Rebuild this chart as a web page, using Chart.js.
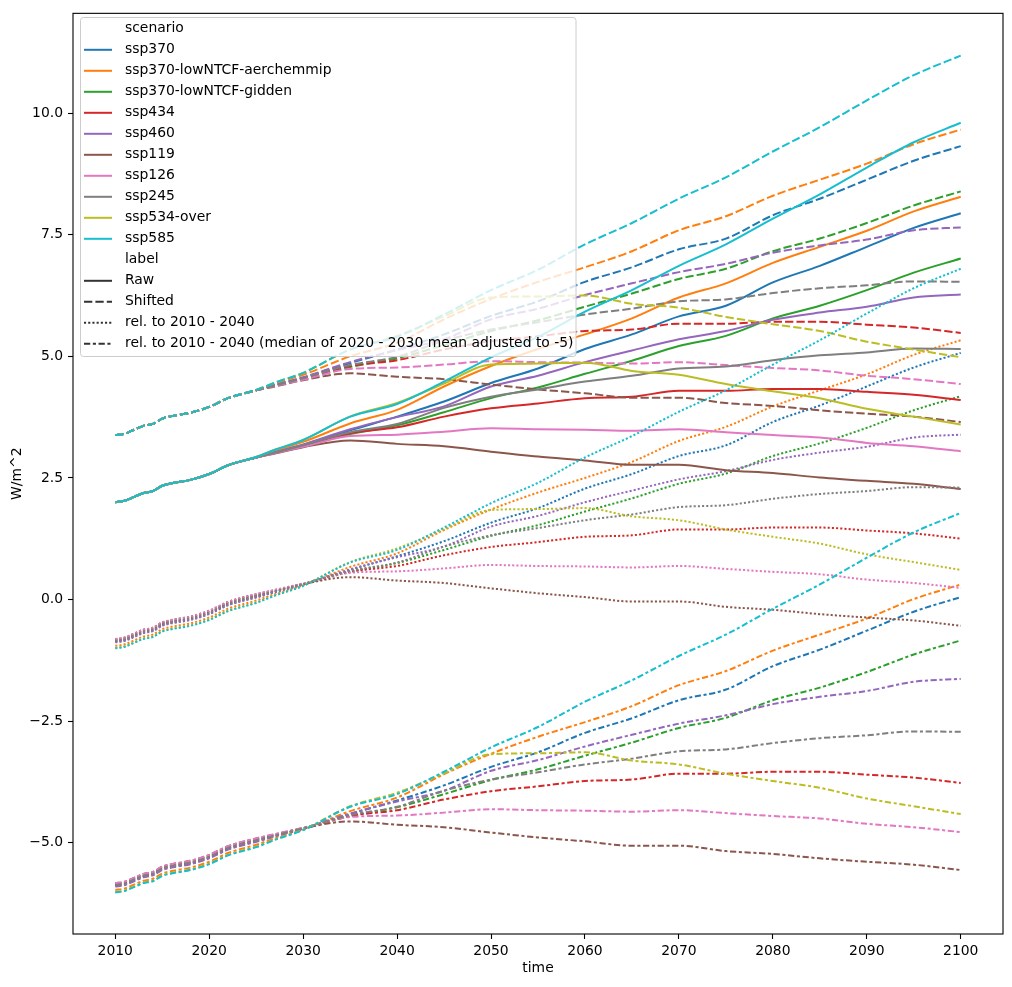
<!DOCTYPE html>
<html>
<head>
<meta charset="utf-8">
<title>Forcing by scenario</title>
<script src="https://cdn.jsdelivr.net/npm/chart.js@4.4.1/dist/chart.umd.min.js"></script>
<style>
  body { margin: 0; background: #fff; }
  #wrap { width: 1012px; height: 987px; }
</style>
</head>
<body>
<div id="wrap"><canvas id="myChart" width="1012" height="987"></canvas></div>
<script>
'use strict';

let scenarios = ['ssp370', 'ssp370-lowNTCF-aerchemmip', 'ssp370-lowNTCF-gidden', 'ssp434', 'ssp460',
  'ssp119', 'ssp126', 'ssp245', 'ssp534-over', 'ssp585'];
let colors = ['#1f77b4', '#ff7f0e', '#2ca02c', '#d62728', '#9467bd',
  '#8c564b', '#e377c2', '#7f7f7f', '#bcbd22', '#17becf'];
let labels = ['Raw', 'Shifted', 'rel. to 2010 - 2040',
  'rel. to 2010 - 2040 (median of 2020 - 2030 mean adjusted to -5)'];

// shared historical part, same for every scenario
let histYears = [2010, 2011, 2012, 2013, 2014, 2015, 2016, 2018, 2020, 2022];
let history = [2.00, 2.03, 2.11, 2.19, 2.23, 2.34, 2.39, 2.46, 2.58, 2.76];

let futYears = [2025, 2027, 2030, 2035, 2040, 2045, 2050, 2055, 2060, 2065, 2070,
  2075, 2080, 2085, 2090, 2095, 2100];

// raw values (W/m^2), from 2025 on
let ssp370 = [2.92, 3.03, 3.18, 3.48, 3.76, 4.07, 4.45, 4.75,
  5.15, 5.45, 5.82, 6.04, 6.52, 6.86, 7.25, 7.64, 7.94];
let ssp370Aer = [2.93, 3.06, 3.24, 3.62, 3.90, 4.38, 4.80, 5.15,
  5.45, 5.78, 6.21, 6.50, 6.92, 7.25, 7.58, 7.98, 8.28];
let ssp370Gidden = [2.92, 3.02, 3.15, 3.40, 3.58, 3.85, 4.14, 4.36,
  4.64, 4.91, 5.21, 5.42, 5.78, 6.04, 6.36, 6.72, 7.01];
let ssp434 = [2.92, 3.02, 3.16, 3.42, 3.54, 3.76, 3.93, 4.03,
  4.14, 4.17, 4.29, 4.29, 4.33, 4.33, 4.27, 4.21, 4.10];
let ssp460 = [2.92, 3.03, 3.19, 3.50, 3.75, 3.97, 4.38, 4.60,
  4.88, 5.12, 5.35, 5.52, 5.75, 5.90, 6.02, 6.21, 6.27];
let ssp119 = [2.92, 3.00, 3.13, 3.27, 3.20, 3.15, 3.04, 2.94,
  2.86, 2.77, 2.77, 2.66, 2.60, 2.51, 2.44, 2.38, 2.27];
let ssp126 = [2.92, 3.01, 3.14, 3.36, 3.39, 3.45, 3.52, 3.50,
  3.49, 3.47, 3.50, 3.44, 3.38, 3.33, 3.22, 3.15, 3.05];
let ssp245 = [2.92, 3.02, 3.17, 3.44, 3.61, 3.94, 4.17, 4.32,
  4.48, 4.60, 4.75, 4.79, 4.92, 5.02, 5.08, 5.16, 5.15];
let ssp534over = [2.93, 3.08, 3.28, 3.76, 4.04, 4.44, 4.83, 4.85,
  4.87, 4.70, 4.62, 4.43, 4.28, 4.14, 3.92, 3.76, 3.60];
let ssp585 = [2.93, 3.08, 3.28, 3.76, 4.02, 4.48, 4.98, 5.40,
  5.92, 6.36, 6.86, 7.30, 7.83, 8.33, 8.88, 9.40, 9.80];

let rawValues = [ssp370, ssp370Aer, ssp370Gidden, ssp434, ssp460, ssp119, ssp126, ssp245, ssp534over, ssp585];

// offsets (shifted minus raw, raw minus dotted, dash-dot minus dotted)
let shiftOffset = 1.38;
let relBase = [2.87, 2.95, 2.83, 2.85, 2.88, 2.81, 2.81, 2.85, 2.99, 3.00];
let medianShift = -5.02;

let xTicks = [2010, 2020, 2030, 2040, 2050, 2060, 2070, 2080, 2090, 2100];
let yTicks = [-5, -2.5, 0, 2.5, 5, 7.5, 10];

let dashes = [[], [8.3, 3.1], [2.1, 2.1], [6.25, 2.6, 3.1, 2.6]];

function seriesFor(s, k) {
  let yrs = histYears.concat(futYears);
  let vals = history.concat(rawValues[s]);
  let out = [];
  for (let i = 0; i < yrs.length; i++) {
    let v = vals[i];
    if (k === 1) v = v + shiftOffset;
    if (k === 2) v = v - relBase[s];
    if (k === 3) v = v - relBase[s] + medianShift;
    out.push({x: yrs[i], y: v});
  }
  return out;
}

let datasets = [];
for (let s = 0; s < scenarios.length; s++) {
  for (let k = 0; k < labels.length; k++) {
    datasets.push({
      label: scenarios[s] + ' ' + labels[k],
      data: seriesFor(s, k),
      borderColor: colors[s],
      backgroundColor: colors[s],
      borderWidth: 2,
      borderDash: dashes[k],
      pointRadius: 0,
      fill: false,
      cubicInterpolationMode: 'monotone'
    });
  }
}
// chart.js paints the first dataset on top, seaborn paints the last one on top
datasets.reverse();

function minusSign(v) {
  return v.toFixed(1).replace('-', '\u2212');
}

let framePlugin = {
  id: 'frame',
  afterDraw: function(chart) {
    let a = chart.chartArea;
    let ctx = chart.ctx;
    ctx.save();
    ctx.strokeStyle = '#000';
    ctx.lineWidth = 1.1;
    ctx.strokeRect(a.left, a.top, a.right - a.left, a.bottom - a.top);
    ctx.restore();
  }
};

let legendPlugin = {
  id: 'boxLegend',
  afterDatasetsDraw: function(chart) {
    let ctx = chart.ctx;
    ctx.save();
    let bx = 80.5, by = 17.5, bw = 495.5, bh = 339, r = 3;
    ctx.beginPath();
    ctx.moveTo(bx + r, by);
    ctx.lineTo(bx + bw - r, by);
    ctx.quadraticCurveTo(bx + bw, by, bx + bw, by + r);
    ctx.lineTo(bx + bw, by + bh - r);
    ctx.quadraticCurveTo(bx + bw, by + bh, bx + bw - r, by + bh);
    ctx.lineTo(bx + r, by + bh);
    ctx.quadraticCurveTo(bx, by + bh, bx, by + bh - r);
    ctx.lineTo(bx, by + r);
    ctx.quadraticCurveTo(bx, by, bx + r, by);
    ctx.closePath();
    ctx.fillStyle = 'rgba(255,255,255,0.8)';
    ctx.fill();
    ctx.strokeStyle = '#cccccc';
    ctx.lineWidth = 1;
    ctx.stroke();

    let rows = [{text: 'scenario'}];
    for (let s = 0; s < scenarios.length; s++) {
      rows.push({text: scenarios[s], color: colors[s], dash: []});
    }
    rows.push({text: 'label'});
    for (let k = 0; k < labels.length; k++) {
      rows.push({text: labels[k], color: '#333333', dash: dashes[k]});
    }

    ctx.font = '13.9px "DejaVu Sans"';
    ctx.textBaseline = 'middle';
    ctx.fillStyle = '#000';
    for (let i = 0; i < rows.length; i++) {
      let y = 28.8 + 21 * i;
      if (rows[i].color) {
        ctx.beginPath();
        ctx.setLineDash(rows[i].dash);
        ctx.strokeStyle = rows[i].color;
        ctx.lineWidth = 2;
        ctx.moveTo(84, y);
        ctx.lineTo(112, y);
        ctx.stroke();
        ctx.setLineDash([]);
      }
      ctx.fillText(rows[i].text, 125, y);
    }
    ctx.restore();
  }
};

Chart.defaults.font.family = '"DejaVu Sans"';
Chart.defaults.font.size = 13.9;
Chart.defaults.color = '#000';

let ctx = document.getElementById('myChart').getContext('2d');
let chart = new Chart(ctx, {
  type: 'line',
  data: {datasets: datasets},
  options: {
    responsive: false,
    animation: false,
    devicePixelRatio: 1,
    events: [],
    layout: {padding: {left: 0, top: 10, right: 9, bottom: 0}},
    plugins: {legend: {display: false}, tooltip: {enabled: false}},
    scales: {
      x: {
        type: 'linear',
        min: 2005.5,
        max: 2104.5,
        afterBuildTicks: function(scale) {
          scale.ticks = xTicks.map(function(v) { return {value: v}; });
        },
        afterFit: function(scale) { scale.height = 53; },
        ticks: {
          padding: 4,
          maxRotation: 0,
          autoSkip: false,
          callback: function(v) { return String(v); }
        },
        grid: {drawOnChartArea: false, tickLength: 5, tickColor: '#000', tickWidth: 1.1},
        border: {display: false},
        title: {display: true, text: 'time', padding: {top: 0, bottom: 10}}
      },
      y: {
        type: 'linear',
        min: -6.875,
        max: 12.05,
        afterBuildTicks: function(scale) {
          scale.ticks = yTicks.map(function(v) { return {value: v}; });
        },
        afterFit: function(scale) { scale.width = 73; },
        ticks: {
          padding: 5,
          autoSkip: false,
          callback: function(v) { return minusSign(v); }
        },
        grid: {drawOnChartArea: false, tickLength: 5, tickColor: '#000', tickWidth: 1.1},
        border: {display: false},
        title: {display: true, text: 'W/m^2', padding: {top: 9, bottom: 0}}
      }
    }
  },
  plugins: [legendPlugin, framePlugin]
});
</script>
</body>
</html>
